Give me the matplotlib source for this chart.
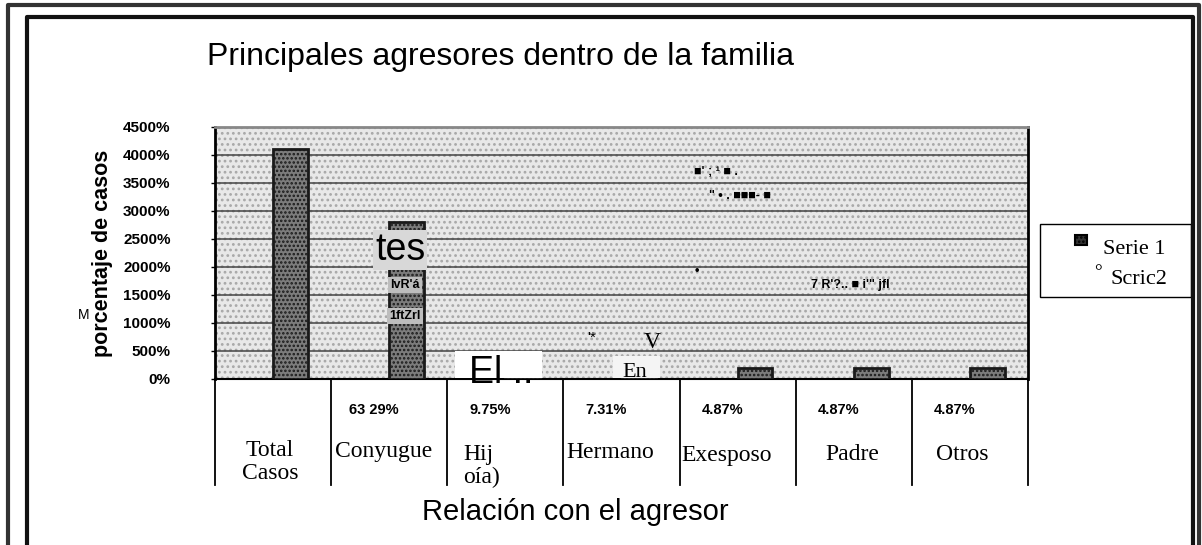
import matplotlib
matplotlib.use("Agg")
import matplotlib.pyplot as plt
from matplotlib.patches import Rectangle
from matplotlib.lines import Line2D

# DATA

categories = ["Total\nCasos", "Conyugue", "Hij\noía)", "Hermano", "Exesposo", "Padre", "Otros"]
values = [4100, 2800, 400, 300, 200, 200, 200]
pct_labels = ["", "63 29%", "9.75%", "7.31%", "4.87%", "4.87%", "4.87%"]
yticks = [0, 500, 1000, 1500, 2000, 2500, 3000, 3500, 4000, 4500]
legend_labels = ["Serie 1", "Scric2"]

W, H = 1202, 545
sans = ["Liberation Sans", "DejaVu Sans"]
serif = ["Liberation Serif", "DejaVu Serif"]

plt.rcParams["hatch.linewidth"] = 1.2

fig = plt.figure(figsize=(W / 100, H / 100), dpi=100)


def px(x, y):
    return x / W, 1 - y / H


def box(x0, y0, x1, y1, **kw):
    # rectangle given by pixel corners (top-left, bottom-right)
    r = Rectangle(px(x0, y1), (x1 - x0) / W, (y1 - y0) / H, **kw)
    fig.add_artist(r)
    return r


# outer scanned frame (double line, open at the bottom)
for (x0, y0, x1, lw, col) in [(8, 5, 1199, 3.0, "#333333"), (27, 17, 1193, 3.0, "#111111")]:
    fig.add_artist(Line2D([x0 / W, x0 / W, x1 / W, x1 / W],
                          [0, 1 - y0 / H, 1 - y0 / H, 0],
                          color=col, lw=lw))

# PLOT AREA

ax = fig.add_axes([215 / W, 1 - 379 / H, 813 / W, 252 / H])
ax.set_facecolor("#e8e8e8")
ax.patch.set_hatch("...")
ax.patch.set_edgecolor("#a8a8a8")

ax.set_xlim(-0.5, 6.5)
ax.set_ylim(0, 4500)
ax.set_yticks(yticks)
ax.set_yticklabels([f"{v}%" for v in yticks], fontfamily=sans,
                   fontweight="bold", fontsize=11)
ax.tick_params(axis="y", length=3, width=1, pad=29)
ax.set_xticks([])
ax.grid(axis="y", color="#444444", lw=1.1)
ax.set_axisbelow(True)

for s in ["left", "right"]:
    ax.spines[s].set_linewidth(2.0)
ax.spines["top"].set_color("#888888")
ax.spines["top"].set_linewidth(2.0)
ax.spines["bottom"].set_linewidth(1.5)

xs = [i + 0.15 for i in range(len(values))]
ax.bar(xs, values, width=0.3, color="#7c7c7c", edgecolor="#1a1a1a",
       hatch="....", linewidth=2.0, zorder=3)

ax.set_ylabel("porcentaje de casos", fontfamily=sans, fontweight="heavy",
              fontsize=15.5)
ax.yaxis.set_label_coords(-0.126, 0.5)

# category table below the axis
trans = ax.get_xaxis_transform()
for i in range(len(categories) + 1):
    ax.plot([i - 0.5, i - 0.5], [0, -0.42], transform=trans, color="black",
            lw=1.3, clip_on=False)

for i, lab in enumerate(pct_labels):
    ax.text(i - 0.13, -0.125, lab, transform=trans, ha="center", va="center",
            fontfamily=sans, fontweight="bold", fontsize=10.5)

cat_pos = [(270, 462), (384, 452), (463, 466), (610, 452), (727, 455), (852, 455), (962, 455)]
for lab, (x, y) in zip(categories, cat_pos):
    ha = "left" if lab.startswith("Hij") else "center"
    fig.text(*px(x, y), lab, ha=ha, va="center", fontfamily=serif,
             fontsize=17, linespacing=1.1)

# TITLES

fig.text(*px(207, 57), "Principales agresores dentro de la familia",
         ha="left", va="center", fontfamily=sans, fontsize=23)
fig.text(*px(575, 512), "Relación con el agresor", ha="center",
         va="center", fontfamily=sans, fontsize=21)

# LEGEND (boxed, outside the plot on the right)

box(1040, 224, 1191, 297, facecolor="white", edgecolor="black", lw=1.0)
box(1075, 235, 1087, 245, facecolor="#333333", edgecolor="black",
    hatch="....", lw=1.5)
fig.text(*px(1103, 250), legend_labels[0], ha="left", va="center",
         fontfamily=serif, fontsize=16)
fig.text(*px(1098, 273), "°", ha="center", va="center", fontfamily=serif,
         fontsize=14)
fig.text(*px(1110, 280), legend_labels[1], ha="left", va="center",
         fontfamily=serif, fontsize=16)

# scanner / OCR residue drawn over the chart
box(455, 351, 542, 378, facecolor="white", edgecolor="none", zorder=9)
box(613, 356, 660, 378, facecolor="#f4f4f4", edgecolor="none", zorder=9)

residue = [
    (400, 250, "tes", sans, 27, "#d8d8d8"),
    (405, 285, "lvR'á", sans, 9, "#bdbdbd"),
    (405, 316, "1ftZrl", sans, 9, "#bdbdbd"),
    (716, 172, "■' ; ¹ ■ .", sans, 9, None),
    (740, 196, "\" • . ■■■- ■", sans, 9, None),
    (697, 271, "•", sans, 9, None),
    (850, 285, "7 R'?.. ■ i'\" jfl", sans, 9, None),
    (592, 338, "'*", sans, 11, None),
    (652, 342, "V", serif, 17, None),
    (84, 315, "M", sans, 10, None),
]
for x, y, t, fam, size, bg in residue:
    kw = {}
    if bg is not None:
        kw["bbox"] = dict(facecolor=bg, edgecolor="none", pad=1.5)
    fig.text(*px(x, y), t, ha="center", va="center", fontfamily=fam,
             fontsize=size, fontweight="bold" if size <= 9 else "normal",
             zorder=10, **kw)

fig.text(*px(469, 383), "El ..", ha="left", va="baseline", fontfamily=sans,
         fontsize=27, zorder=10)
fig.text(*px(622, 377), "En", ha="left", va="baseline", fontfamily=serif,
         fontsize=16, zorder=10)

fig.savefig("out.png", dpi=100)
